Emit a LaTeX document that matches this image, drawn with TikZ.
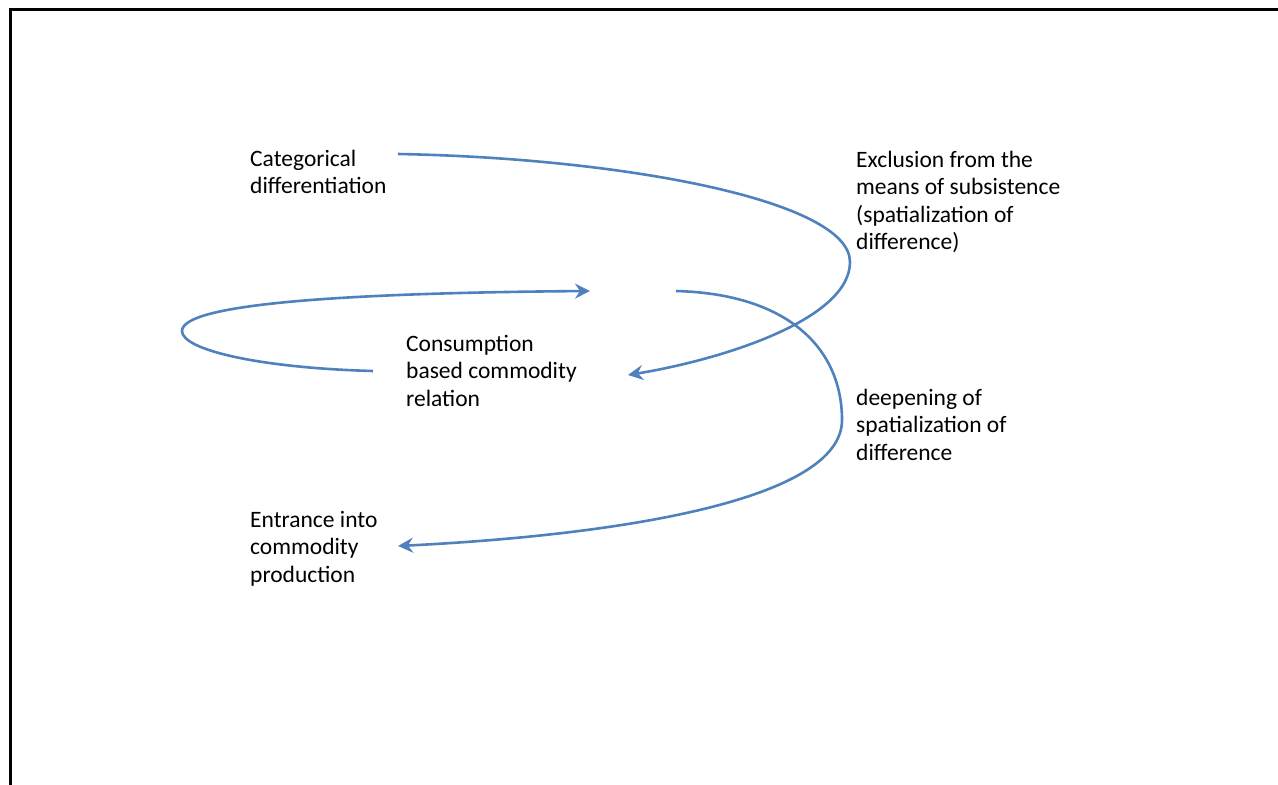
\documentclass[tikz,border=0pt]{standalone}
\usepackage{fontspec}
\setmainfont{Carlito}
\usepackage{xcolor}
\usetikzlibrary{arrows.meta}

\definecolor{curveblue}{RGB}{79,129,189}

\begin{document}
\begin{tikzpicture}[
        x=1pt, y=-1pt,
        every node/.style={
            font=\fontsize{23.5}{27.5}\selectfont,
            align=left,
            inner sep=0pt,
            anchor=base west
        },
        flow/.style={
            -{Stealth[length=15pt, width=15pt, inset=5pt]},
            draw=curveblue,
            line width=2.6pt
        },
        frame/.style={
            line width=3pt
        }
    ]

    \useasboundingbox (0,0) rectangle (1278,785);

    % Rahmen
    \draw[frame] (10,785) -- (10,9) -- (1278,9);

    % Texte (Lage: Grundlinie der letzten Zeile)
    \node (categorical) at (250,193.5)
    {Categorical\\differentiation};

    \node (exclusion) at (856,249.5)
    {Exclusion from the\\means of subsistence\\(spatialization of\\difference)};

    \node (consumption) at (406,406)
    {Consumption\\based commodity\\relation};

    \node (deepening) at (856,460)
    {deepening of\\spatialization of\\difference};

    \node (entrance) at (250,582)
    {Entrance into\\commodity\\production};

    % Anschlusspunkte
    \coordinate (cat-out) at (398,154);
    \coordinate (cons-in) at (628,375);
    \coordinate (loop-out) at (373,371);
    \coordinate (loop-in) at (590,291);
    \coordinate (deep-out) at (676,291);
    \coordinate (entr-in) at (398,546);

    % Kurven
    \draw[flow] (cat-out)
        .. controls (620,158) and (850,200) .. (850,262)
        .. controls (850,320) and (720,360) .. (cons-in);

    \draw[flow] (loop-out)
        .. controls (260,368) and (182,350) .. (182,331)
        .. controls (182,305) and (330,293) .. (loop-in);

    \draw[flow] (deep-out)
        .. controls (790,294) and (842,350) .. (842,420)
        .. controls (842,500) and (620,535) .. (entr-in);

\end{tikzpicture}
\end{document}
